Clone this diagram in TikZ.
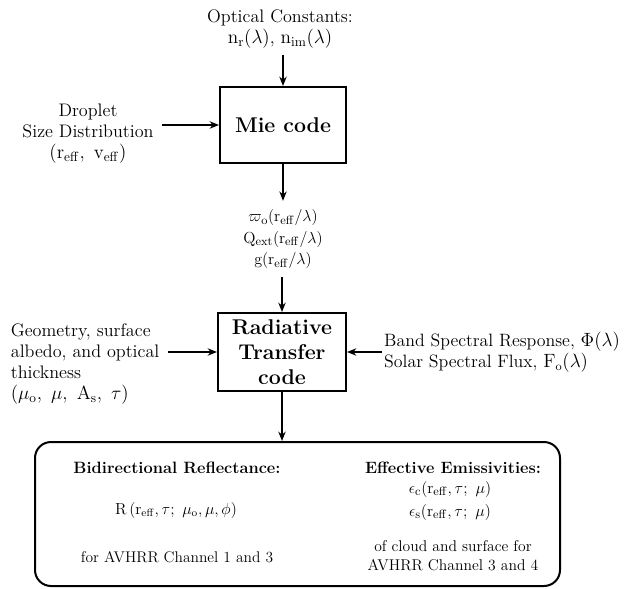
\documentclass[tikz,border=0pt]{standalone}
\usepackage{amsmath}
\usepackage{amssymb}
\usetikzlibrary{arrows.meta}

\tikzset{
  codebox/.style={draw, line width=1.5pt, align=center, inner sep=2pt,
    font=\bfseries\fontsize{16}{19}\selectfont},
  sidetext/.style={inner sep=6pt, font=\fontsize{13.6}{15.8}\selectfont},
  restext/.style={inner sep=0pt, align=center, font=\fontsize{11.6}{14}\selectfont},
  reshead/.style={restext, font=\bfseries\fontsize{12.3}{14}\selectfont},
}

\begin{document}
\begin{tikzpicture}[>={Stealth[length=7pt,width=5.5pt]}, x=0.75pt, y=-0.75pt, line width=1.3pt]
                \useasboundingbox (0,0) rectangle (625,589);
                % the two code boxes
                \node[codebox, minimum width=94.5pt, minimum height=57pt] (mie) at (283,125) {Mie code};
                \node[codebox, font=\bfseries\fontsize{16}{18.75}\selectfont,
                      minimum width=96pt, minimum height=58.5pt] (rt) at (282,352) {Radiative\\Transfer\\code};
                % inputs
                \node[sidetext, align=center, inner sep=4pt] (optc) at (280,29) {Optical Constants:\\$\mathrm{n_r}(\lambda)$, $\mathrm{n_{im}}(\lambda)$};
                \node[sidetext, align=center] (drop) at (88,134) {Droplet\\Size Distribution\\$(\mathrm{r_{eff}},\ \mathrm{v_{eff}})$};
                \node[sidetext, align=center, font=\fontsize{12.6}{16}\selectfont] (mieout) at (283,239) {$\varpi_\mathrm{o}(\mathrm{r_{eff}}/\lambda)$\\$\mathrm{Q_{ext}}(\mathrm{r_{eff}}/\lambda)$\\$\mathrm{g}(\mathrm{r_{eff}}/\lambda)$};
                \node[sidetext, align=left, anchor=west] (geom) at (2,364) {Geometry, surface\\albedo, and optical\\thickness\\$(\mu_\mathrm{o},\ \mu,\ \mathrm{A_s},\ \tau)$};
                \node[sidetext, align=left, anchor=west, inner sep=1pt, font=\fontsize{13.4}{15.8}\selectfont] (band) at (382,352) {Band Spectral Response, $\Phi(\lambda)$\\Solar Spectral Flux, $\mathrm{F_o}(\lambda)$};
                % results
                \node[draw, rounded corners=12pt, line width=1.5pt, minimum width=393.75pt, minimum height=108pt] (res) at (297.5,514) {};
                \node[reshead] (bidir) at (177,468) {Bidirectional Reflectance:};
                \node[restext, font=\fontsize{11.6}{14}\selectfont] (refl) at (176,510) {$\mathrm{R}\,(\mathrm{r_{eff}},\tau;\ \mu_\mathrm{o},\mu,\phi)$};
                \node[restext] (chan1) at (177,557) {for AVHRR Channel 1 and 3};
                \node[reshead] (emis) at (453,468) {Effective Emissivities:};
                \node[restext, font=\fontsize{12.3}{14}\selectfont] (epsc) at (450,489) {$\epsilon_\mathrm{c}(\mathrm{r_{eff}},\tau;\ \mu)$};
                \node[restext, font=\fontsize{12.3}{14}\selectfont] (epss) at (450,512) {$\epsilon_\mathrm{s}(\mathrm{r_{eff}},\tau;\ \mu)$};
                \node[restext, font=\fontsize{11.7}{14.3}\selectfont] (chan3) at (453,556) {of cloud and surface for\\AVHRR Channel 3 and 4};
                % arrows
                \draw[->] (optc.south -| mie.north) -- (mie.north);
                \draw[->] (drop.east |- mie.west) -- (mie.west);
                \draw[->] (mie.south) -- (mieout.north -| mie.south);
                \draw[->] (mieout.south -| rt.north) -- (rt.north);
                \draw[->] (geom.east |- rt.west) -- (rt.west);
                \draw[->] (band.west |- rt.east) -- (rt.east);
                \draw[->] (rt.south) -- (rt.south |- res.north);
            \end{tikzpicture}
\end{document}
